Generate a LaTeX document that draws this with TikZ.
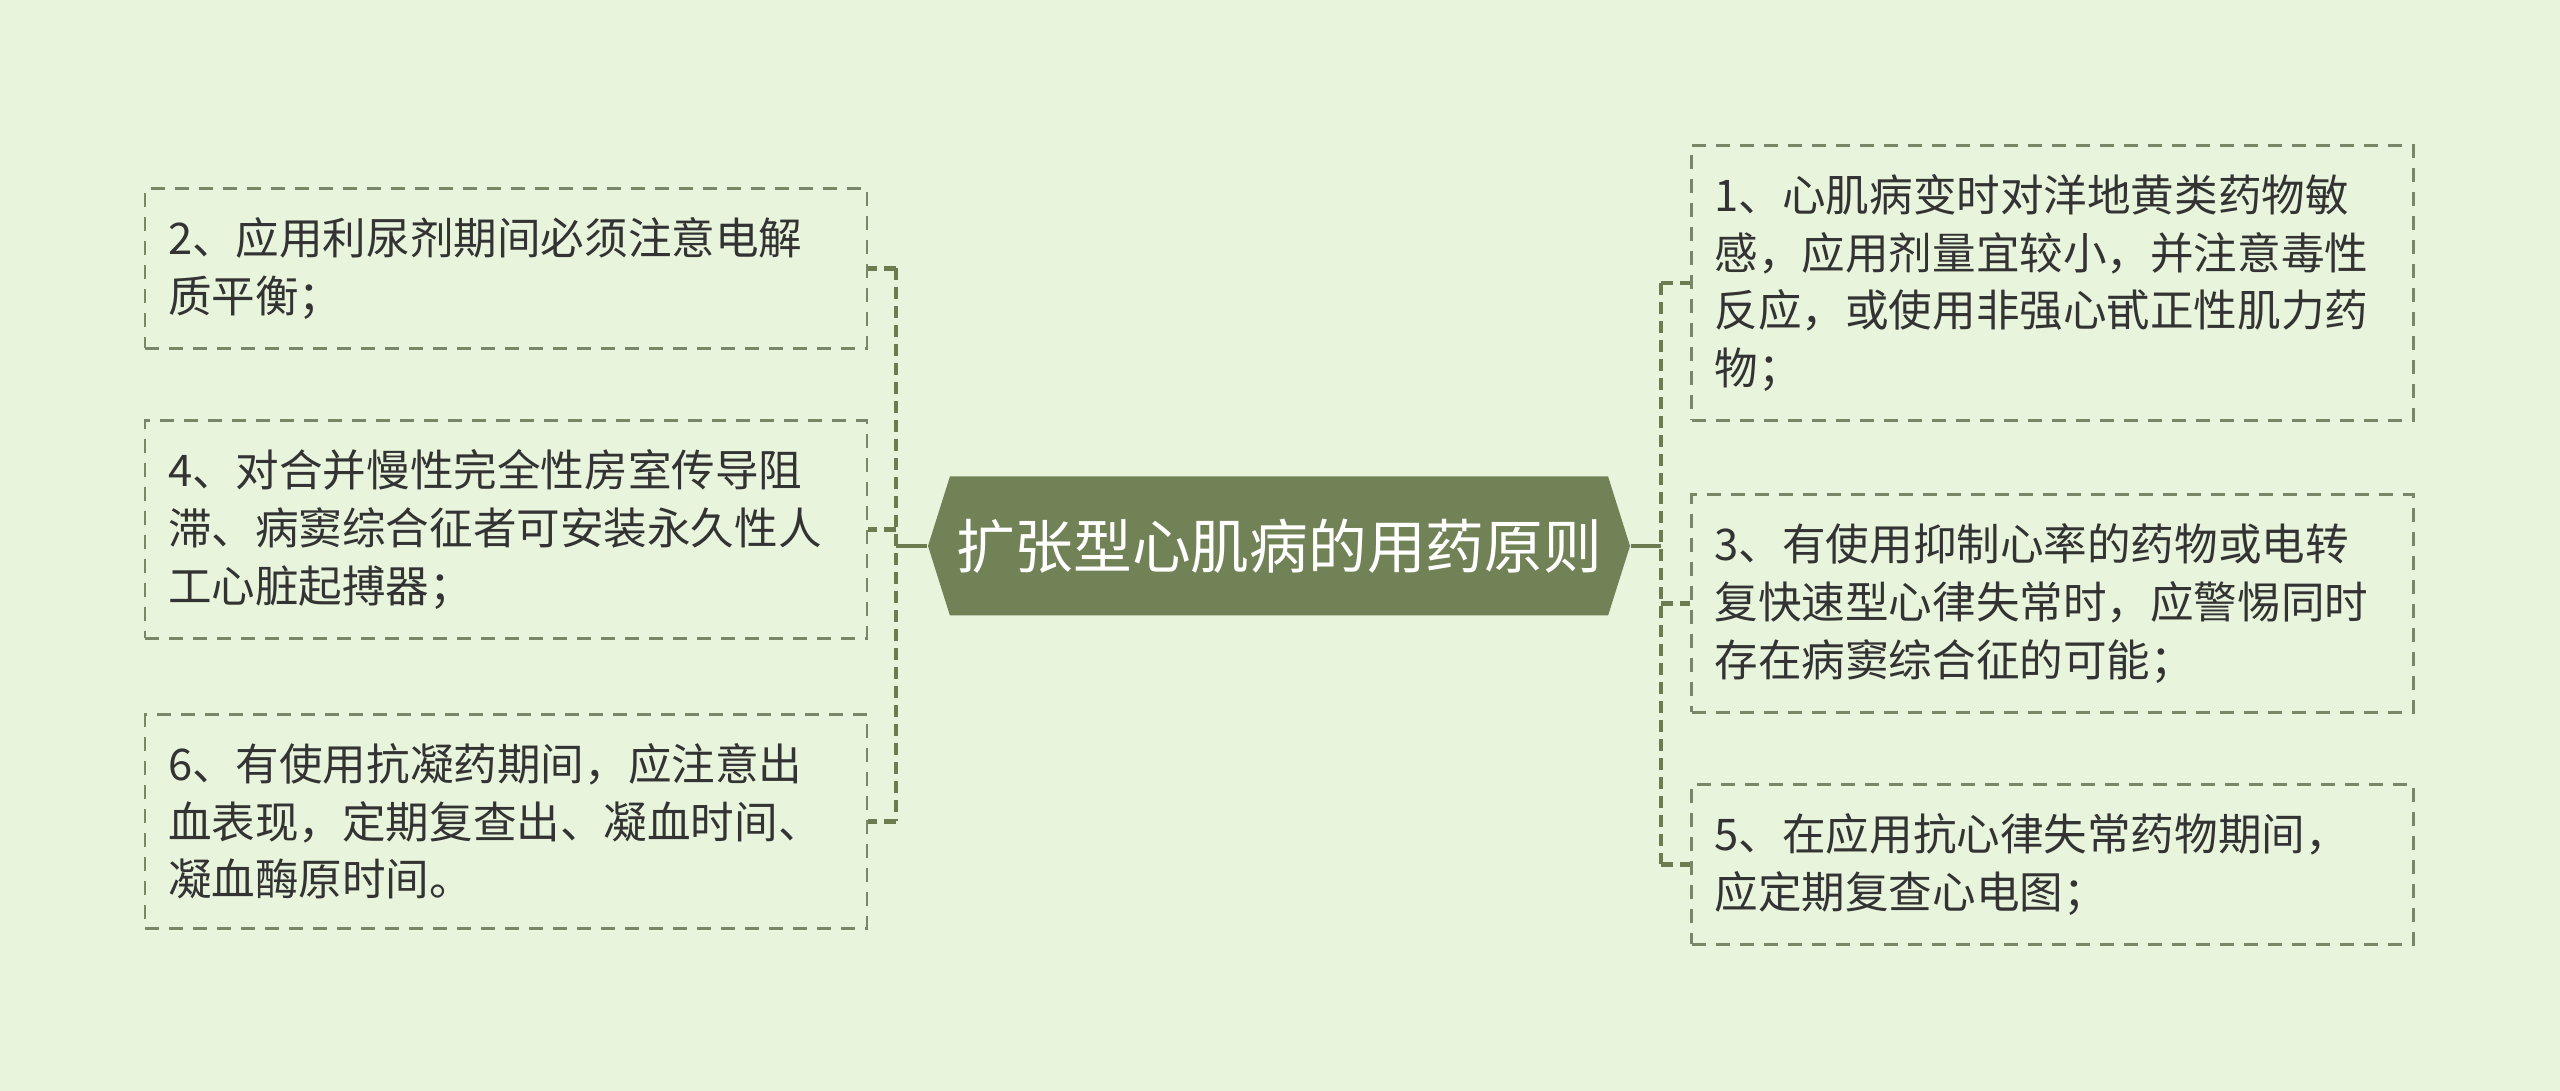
\documentclass[tikz,border=0pt]{standalone}
\usepackage{fontspec}
\setmainfont{Noto Sans CJK SC}
\usetikzlibrary{shapes.symbols}
\definecolor{bgcol}{RGB}{232,245,220}
\definecolor{rootcol}{RGB}{114,130,87}
\definecolor{linecol}{RGB}{108,124,80}
\definecolor{boxcol}{RGB}{122,134,104}
\definecolor{txtcol}{RGB}{51,51,51}
\begin{document}
\begin{tikzpicture}
[root/.style={signal,signal to=west and east,signal pointer angle=145,fill=rootcol,text=white,
  minimum width=7.02cm,minimum height=1.39cm,inner sep=0pt,font=\fontsize{16.7pt}{20pt}\selectfont},
leaf/.style={rectangle,draw=boxcol,line width=0.8pt,dash pattern=on 0.14cm off 0.1cm,
  text=txtcol,text width=6.76cm,align=left,inner xsep=0.23cm,inner ysep=0.29cm,
  font=\fontsize{12.4pt}{16.4pt}\selectfont},
trunk/.style={draw=linecol,line width=1.4pt,dash pattern=on 0.12cm off 0.07cm},
link/.style={draw=linecol,line width=1.4pt}]
\useasboundingbox[fill=bgcol] (0,0) rectangle (25.6,10.91);
\node[root] (root) at (12.79,5.45) {扩张型心肌病的用药原则};
% left side
\node[leaf] (n2) at (5.06,8.225) {2、应用利尿剂期间必须注意电解\\质平衡；};
\node[leaf] (n4) at (5.06,5.615) {4、对合并慢性完全性房室传导阻\\滞、病窦综合征者可安装永久性人\\工心脏起搏器；};
\node[leaf] (n6) at (5.06,2.695) {6、有使用抗凝药期间，应注意出\\血表现，定期复查出、凝血时间、\\凝血酶原时间。};
% right side
\node[leaf] (n1) at (20.525,8.08) {1、心肌病变时对洋地黄类药物敏\\感，应用剂量宜较小，并注意毒性\\反应，或使用非强心甙正性肌力药\\物；};
\node[leaf] (n3) at (20.525,4.875) {3、有使用抑制心率的药物或电转\\复快速型心律失常时，应警惕同时\\存在病窦综合征的可能；};
\node[leaf] (n5) at (20.525,2.265) {5、在应用抗心律失常药物期间，\\应定期复查心电图；};
\coordinate (lj) at (8.96,5.45);
\coordinate (rj) at (16.61,5.45);
\draw[link] (root.west) -- (lj);
\draw[link] (root.east) -- (rj);
\draw[trunk] (lj |- n2.east) -- (lj |- n6.east);
\draw[trunk] (rj |- n1.west) -- (rj |- n5.west);
\foreach \n in {n2,n4,n6}
  \draw[trunk] (lj |- \n.east) -- (\n.east);
\foreach \n in {n1,n3,n5}
  \draw[trunk] (rj |- \n.west) -- (\n.west);
\end{tikzpicture}
\end{document}
